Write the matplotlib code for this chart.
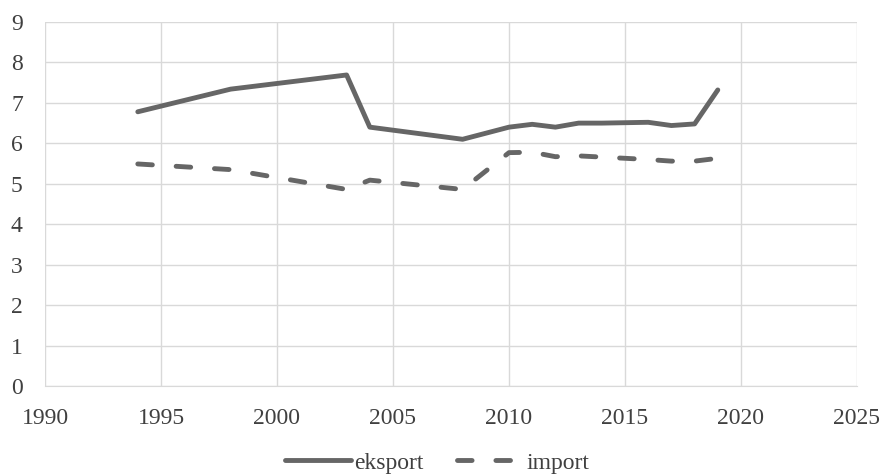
from matplotlib import pyplot as plt

years_eksport = [1994, 1998, 2003, 2004, 2008, 2010, 2011, 2012, 2013, 2014, 2015, 2016, 2017, 2018, 2019]
eksport = [6.78, 7.34, 7.69, 6.40, 6.10, 6.40, 6.47, 6.40, 6.50, 6.50, 6.51, 6.52, 6.44, 6.48, 7.32]

years_import = [1994, 1998, 2003, 2004, 2008, 2010, 2011, 2012, 2013, 2014, 2015, 2016, 2017, 2018, 2019]
imports = [5.49, 5.35, 4.86, 5.09, 4.86, 5.77, 5.78, 5.67, 5.69, 5.66, 5.63, 5.60, 5.56, 5.56, 5.63]

x_ticks = [1990, 1995, 2000, 2005, 2010, 2015, 2020, 2025]
y_ticks = list(range(0, 10))

plt.rcParams['font.family'] = ['Liberation Serif', 'DejaVu Serif']

fig = plt.figure(figsize=(8.83, 4.76), dpi=100)
ax = fig.add_axes([45 / 883, 1 - 386 / 476, (857 - 45) / 883, (386 - 22) / 476])

line_color = '#666666'
ax.plot(years_eksport, eksport, color=line_color, linewidth=3.5,
        solid_capstyle='round', solid_joinstyle='round', label='eksport')
ax.plot(years_import, imports, color=line_color, linewidth=3.5,
        linestyle=(0, (3.0, 4.9)), dash_capstyle='round', label='import')

ax.set_xlim(1990, 2025)
ax.set_ylim(0, 9)
ax.set_xticks(x_ticks)
ax.set_yticks(y_ticks)
ax.grid(True, color='#d9d9d9', linewidth=1.0)
ax.set_axisbelow(True)
for side in ['top', 'right', 'left']:
    ax.spines[side].set_visible(False)
ax.spines['bottom'].set_color('#d9d9d9')
ax.tick_params(length=0, labelsize=17, colors='#404040')
ax.tick_params(axis='y', pad=16)
ax.tick_params(axis='x', pad=16)

fig.legend(loc='center', bbox_to_anchor=(437 / 883, 1 - 463 / 476), ncol=2,
           frameon=False, fontsize=17, handlelength=2.8, columnspacing=1.4,
           handletextpad=0.15, labelcolor='#404040')

plt.savefig('out.png', dpi=100)
